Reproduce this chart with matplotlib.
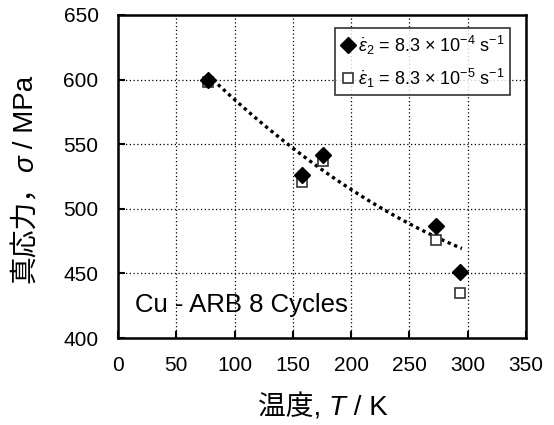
import numpy as np
import matplotlib
matplotlib.use("Agg")
import matplotlib.pyplot as plt

plt.rcParams['font.family'] = ['Liberation Sans', 'Noto Sans CJK JP', 'DejaVu Sans']
plt.rcParams['mathtext.fontset'] = 'custom'
plt.rcParams['mathtext.rm'] = 'Liberation Sans'
plt.rcParams['mathtext.it'] = 'Liberation Sans:italic'

temp = [77, 158, 176, 273, 293]
stress_e2 = [600, 526, 542, 487, 451]
stress_e1 = [598, 521, 537, 476, 435]
trend_T = [77, 150, 223, 295]
trend_s = [603, 549, 500, 470]
xlabel_parts = [('温度, ', 'normal'), ('T', 'italic'), (' / K', 'normal')]
ylabel_parts = [('真応力，', 'normal'), ('σ', 'italic'), (' / MPa', 'normal')]

W, H = 554, 425
fig = plt.figure(figsize=(W / 100, H / 100), dpi=100)
ax = fig.add_axes([118/W, 1-338/H, (526-118)/W, (338-15)/H])

c = np.polyfit(trend_T, trend_s, 2)
xs = np.linspace(trend_T[0], trend_T[-1], 100)
ax.plot(xs, np.polyval(c, xs), color='black', linestyle=(0, (1, 1.1)), linewidth=2.4, zorder=2)

ax.plot(temp, stress_e2, linestyle='none', marker='D', markersize=8.5, color='black', zorder=4,
        label=r'$\dot{\varepsilon}_2$ = 8.3 × 10$^{-4}$ s$^{-1}$')
ax.plot(temp, stress_e1, linestyle='none', marker='s', markersize=7.5, markerfacecolor='white',
        markeredgecolor='#333333', markeredgewidth=1.2, zorder=3,
        label=r'$\dot{\varepsilon}_1$ = 8.3 × 10$^{-5}$ s$^{-1}$')

ax.set_xlim(0, 350)
ax.set_ylim(400, 650)
ax.set_xticks(np.arange(0, 351, 50))
ax.set_yticks(np.arange(400, 651, 50))
ax.grid(True, color='black', linestyle=(0, (1, 2)), linewidth=0.9)
ax.tick_params(direction='in', length=5, width=1.5, labelsize=15, top=False, right=False)
ax.tick_params(axis='x', pad=13)
ax.tick_params(axis='y', pad=14)
for s in ax.spines.values():
    s.set_linewidth(1.8)

ax.text(15, 425.5, 'Cu - ARB 8 Cycles', fontsize=18.5, va='center', ha='left')

leg = ax.legend(loc='upper right', bbox_to_anchor=(510/W, 1-28/H), bbox_transform=fig.transFigure,
                fontsize=13, frameon=True,
                fancybox=False, edgecolor='black', handletextpad=0.15, borderpad=0.3,
                handlelength=0.8, labelspacing=0.55, borderaxespad=0)
leg.get_frame().set_linewidth(1.2)


def draw_pieces(parts, cx, cy, rotation, size):
    """Draw text pieces end to end, centered at (cx, cy) in figure pixels (from top-left)."""
    fig.canvas.draw()
    r = fig.canvas.get_renderer()
    texts = []
    for s, st in parts:
        t = fig.text(0, 0, s, fontsize=size, fontstyle=st, rotation=0,
                     ha='left', va='center', rotation_mode='anchor')
        texts.append(t)
    lengths = [t.get_window_extent(renderer=r).width for t in texts]
    total = sum(lengths)
    pos = -total / 2
    for t, L in zip(texts, lengths):
        t.set_rotation(rotation)
        if rotation == 0:
            t.set_position(((cx + pos) / W, 1 - cy / H))
        else:
            t.set_position((cx / W, 1 - (cy - pos) / H))
        pos += L


draw_pieces(xlabel_parts, 322.5, 408, 0, 20)
draw_pieces(ylabel_parts, 26, 179.5, 90, 20)

fig.savefig('out.png', dpi=100)
